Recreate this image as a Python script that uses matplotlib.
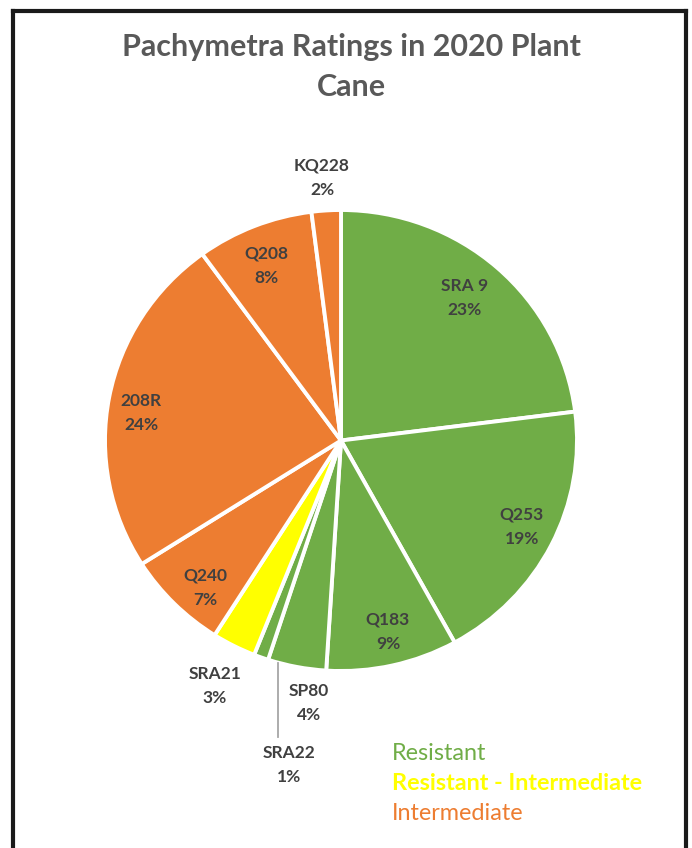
import numpy as np
import matplotlib
matplotlib.use("Agg")
import matplotlib.pyplot as plt
from matplotlib.lines import Line2D

plt.rcParams['font.family'] = ['Lato', 'DejaVu Sans']

labels = ["SRA 9", "Q253", "Q183", "SP80", "SRA22", "SRA21", "Q240", "208R", "Q208", "KQ228"]
values = [23, 19, 9, 4, 1, 3, 7, 24, 8, 2]
groups = ["R", "R", "R", "R", "R", "RI", "I", "I", "I", "I"]
group_colors = {"R": "#70AD47", "RI": "#FFFF00", "I": "#ED7D31"}
legend_items = ["Resistant", "Resistant - Intermediate", "Intermediate"]
legend_colors = ["#70AD47", "#FFFF00", "#ED7D31"]

W, H = 692, 848
fig = plt.figure(figsize=(W / 100, H / 100), dpi=100)

cx, cy, rx, ry = 341, 440.5, 236, 230.5
ax = fig.add_axes([(cx - rx) / W, (H - cy - ry) / H, 2 * rx / W, 2 * ry / H])
wedges, _ = ax.pie(values, colors=[group_colors[g] for g in groups], startangle=90,
                   counterclock=False, radius=1.0,
                   wedgeprops=dict(edgecolor="white", linewidth=2.8))
ax.set_xlim(-1, 1)
ax.set_ylim(-1, 1)
ax.set_aspect("auto")
ax.axis("off")

# label anchor points in pixels of the figure (layout only)
label_px = [(465, 298), (522, 527), (388, 632), (309, 703), (289, 765),
            (215, 686), (205, 588), (141, 413), (266, 266), (322, 178)]
for lab, v, (px, py) in zip(labels, values, label_px):
    fig.text(px / W, 1 - py / H, f"{lab}\n{v}%", ha="center", va="center", fontsize=12.5,
             fontweight="bold", color="#404040", linespacing=1.62)

# leader line for the tiny SRA22 slice
fig.add_artist(Line2D([278 / W, 278 / W], [1 - 663 / H, 1 - 737 / H], color="#A6A6A6",
                      linewidth=1.3, transform=fig.transFigure))

fig.text(351 / W, 1 - 47 / H, "Pachymetra Ratings in 2020 Plant", ha="center",
         va="center", fontsize=22, fontweight="bold", color="#595959")
fig.text(351 / W, 1 - 87 / H, "Cane", ha="center", va="center",
         fontsize=22, fontweight="bold", color="#595959")

ys = [753, 784, 813]
for t, c, yy, bold in zip(legend_items, legend_colors, ys, [False, True, False]):
    fig.text(392 / W, 1 - yy / H, t, ha="left", va="center", fontsize=16.8,
             fontweight="bold" if bold else "normal", color=c)

# border frame
for xs, ys_ in [([13, 13], [848, 11]), ([686, 686], [848, 11]), ([13, 686], [11, 11])]:
    fig.add_artist(Line2D([x / W for x in xs], [1 - y / H for y in ys_], color="#1a1a1a",
                          linewidth=3, transform=fig.transFigure,
                          solid_capstyle="projecting"))

fig.savefig("out.png", dpi=100)
